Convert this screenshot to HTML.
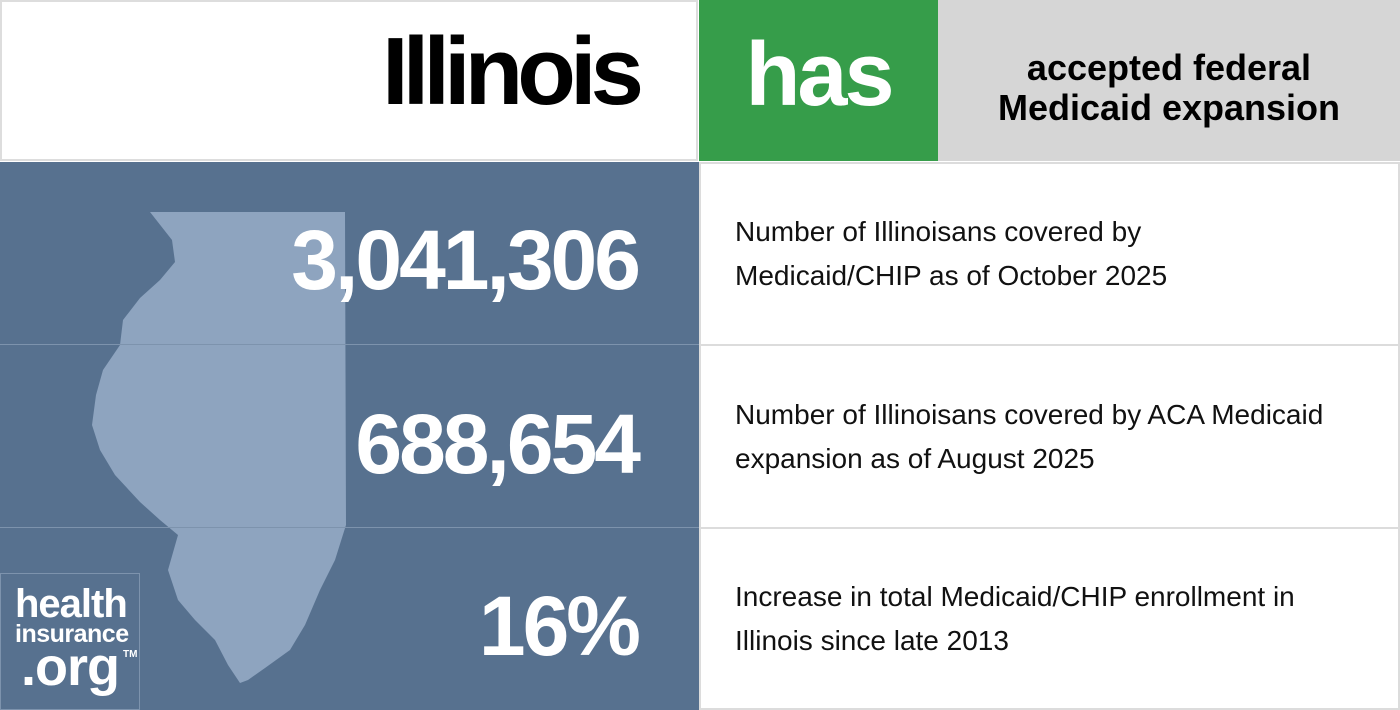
<!DOCTYPE html>
<html><head><meta charset="utf-8"><style>
body{margin:0;width:1400px;height:710px;overflow:hidden;background:#fff;font-family:"Liberation Sans","Noto Sans CJK JP",sans-serif;}
.a{position:absolute;box-sizing:border-box;}
.num{position:absolute;right:762px;color:#fff;font-weight:bold;font-size:84px;letter-spacing:-3px;line-height:1;}
.desc{position:absolute;left:735px;font-size:28px;color:#111;line-height:44px;}
</style></head><body>
<div class="a" style="left:0;top:0;width:698px;height:161px;border:2px solid #ddd;"></div>
<div class="a" style="right:762px;top:24px;font-size:96px;font-weight:bold;letter-spacing:-6px;line-height:1;color:#000;">Illinois</div>
<div class="a" style="left:699px;top:0;width:239px;height:161px;background:#369d4a;color:#fff;font-weight:bold;font-size:90px;text-align:center;line-height:150px;letter-spacing:-3px;">has</div>
<div class="a" style="left:938px;top:0;width:462px;height:161px;background:#d6d6d6;color:#000;font-weight:bold;font-size:36px;text-align:center;padding-top:48px;line-height:40px;">accepted federal<br>Medicaid expansion</div>
<div class="a" style="left:0;top:162px;width:699px;height:548px;background:#57718f;"></div>
<svg class="a" style="left:0;top:0" width="700" height="710">
<polygon fill="#8ea4bf" points="150,212 345,212 346,525 335,560 320,590 305,625 290,650 265,668 248,680 240,683 228,665 215,640 195,620 178,600 168,570 178,535 160,520 140,502 115,475 100,450 92,425 96,395 103,370 120,345 123,320 140,298 160,280 175,262 172,240"/>
<line x1="0" y1="344.5" x2="699" y2="344.5" stroke="#7d93ad" stroke-width="1"/>
<line x1="0" y1="527.5" x2="699" y2="527.5" stroke="#7d93ad" stroke-width="1"/>
</svg>
<div class="num" style="top:218px;">3,041,306</div>
<div class="num" style="top:402px;">688,654</div>
<div class="num" style="top:584px;">16%</div>
<div class="a" style="left:0;top:573px;width:140px;height:137px;border:1px solid #7d93ad;background:#57718f;color:#fff;font-weight:bold;">
<div style="position:absolute;left:14px;top:10px;font-size:40px;letter-spacing:-1px;line-height:1;">health</div>
<div style="position:absolute;left:14px;top:48px;font-size:25px;letter-spacing:-0.5px;line-height:1;">insurance</div>
<div style="position:absolute;left:20px;top:66px;font-size:54px;letter-spacing:-1px;line-height:1;">.org</div>
<div style="position:absolute;left:122px;top:76px;font-size:10px;line-height:1;">TM</div>
</div>
<div class="a" style="left:699px;top:162px;width:701px;height:184px;border:2px solid #dcdcdc;"></div>
<div class="a" style="left:699px;top:344px;width:701px;height:185px;border:2px solid #dcdcdc;"></div>
<div class="a" style="left:699px;top:527px;width:701px;height:183px;border:2px solid #dcdcdc;"></div>
<div class="desc" style="top:210px;">Number of Illinoisans covered by<br>Medicaid/CHIP as of October 2025</div>
<div class="desc" style="top:393px;">Number of Illinoisans covered by ACA Medicaid<br>expansion as of August 2025</div>
<div class="desc" style="top:575px;">Increase in total Medicaid/CHIP enrollment in<br>Illinois since late 2013</div>
</body></html>
